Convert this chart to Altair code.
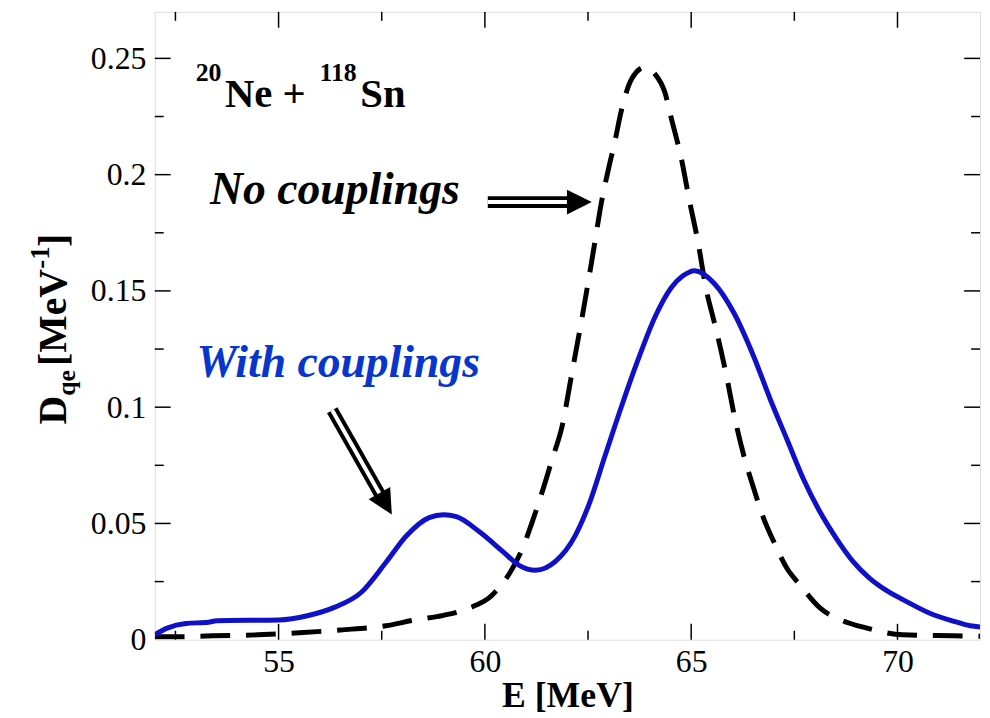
import altair as alt
import pandas as pd

# ---- data ----
E_with = [52.0, 52.3, 52.75, 53.3, 53.5, 55.0, 55.7, 56.35, 57.0, 57.6, 58.1, 58.65, 59.0,
          59.31, 59.86, 60.43, 60.83, 61.23, 61.71, 62.19, 62.51, 62.91, 63.31, 63.71, 64.12,
          64.52, 64.8, 65.08, 65.56, 66.04, 66.52, 66.92, 67.32, 67.72, 68.12, 68.52, 68.92,
          69.32, 69.72, 70.2, 70.77, 71.33, 71.76, 72.0]
D_with = [0.0022, 0.0050, 0.0070, 0.0075, 0.0082, 0.0085, 0.0103, 0.0139, 0.0203, 0.0332,
          0.0447, 0.0525, 0.0537, 0.0529, 0.0465, 0.0380, 0.0320, 0.0299, 0.0337, 0.0448,
          0.0576, 0.0790, 0.1003, 0.1203, 0.1387, 0.1515, 0.1565, 0.1587, 0.1532, 0.1404,
          0.1216, 0.1032, 0.0862, 0.0691, 0.0550, 0.0435, 0.0337, 0.0265, 0.0213, 0.0166,
          0.0115, 0.0081, 0.0060, 0.0055]

E_no = [52.0, 52.6, 53.4, 54.5, 55.5, 56.5, 57.6, 58.3, 59.0, 59.45, 59.79, 60.1, 60.27,
        60.67, 60.91, 61.15, 61.39, 61.63, 61.87, 62.11, 62.35, 62.51, 62.67, 62.83, 63.0,
        63.15, 63.3, 63.56, 63.88, 64.12, 64.36, 64.52, 64.76, 64.96, 65.16, 65.36, 65.56,
        65.72, 65.84, 66.08, 66.28, 66.52, 66.76, 67.0, 67.32, 67.64, 68.12, 68.68, 69.24,
        70.12, 71.33, 72.0]
D_no = [0.0013, 0.0013, 0.0017, 0.0021, 0.0030, 0.0042, 0.0060, 0.0085, 0.0105, 0.0125,
        0.0149, 0.0180, 0.0209, 0.0307, 0.0392, 0.0508, 0.0636, 0.0776, 0.0917, 0.1148,
        0.1380, 0.1544, 0.1715, 0.1886, 0.2028, 0.2142, 0.2270, 0.2412, 0.2462, 0.2433,
        0.2355, 0.2241, 0.2070, 0.1886, 0.1715, 0.1510, 0.1365, 0.1246, 0.1148, 0.0934,
        0.0789, 0.0648, 0.0520, 0.0422, 0.0307, 0.0235, 0.0137, 0.0081, 0.0051, 0.0021,
        0.0017, 0.0015]

x_major = [55, 60, 65, 70]
x_minor = [52.5, 57.5, 62.5, 67.5]
y_major = [0.05, 0.1, 0.15, 0.2, 0.25]
y_minor = [0.025, 0.075, 0.125, 0.175, 0.225]
y_labels = [0, 0.05, 0.1, 0.15, 0.2, 0.25]

# ---- layout / style ----
W, H = 832, 633
FONT = "Liberation Serif"
BLUE_LINE = "#1010c8"
BLUE_TEXT = "#0636cc"
xs = alt.Scale(domain=[52, 72], nice=False, zero=False)
ys = alt.Scale(domain=[0, 0.27], nice=False, zero=False)

AX_X = alt.Axis(values=x_major, title="E [MeV]", tickSize=0, domain=False, grid=False,
                labelFont=FONT, labelFontSize=32, labelColor="black", labelPadding=7,
                titleFont=FONT, titleFontSize=36, titleFontWeight="bold",
                titleColor="black", titlePadding=1, labelFlush=False)
AX_Y = alt.Axis(values=y_labels, format="~g", title=None, tickSize=0, domain=False,
                grid=False, labelFont=FONT, labelFontSize=32, labelColor="black",
                labelPadding=9, labelFlush=False)


def X(field="x"):
    return alt.X(f"{field}:Q", scale=xs, axis=AX_X, title="E [MeV]")


def Y(field="y"):
    return alt.Y(f"{field}:Q", scale=ys, axis=AX_Y, title=None)


with_df = pd.DataFrame({"x": E_with, "y": D_with})
no_df = pd.DataFrame({"x": E_no, "y": D_no})

dashed = alt.Chart(no_df).mark_line(color="black", strokeWidth=5, strokeDash=[30, 16],
                                    strokeCap="butt", interpolate="monotone", clip=True).encode(
    x=X(), y=Y())
solid = alt.Chart(with_df).mark_line(color=BLUE_LINE, strokeWidth=5, interpolate="monotone",
                                     clip=True).encode(x=X(), y=Y())

# ---- ticks (inward, on all four sides) ----
def xticks(vals, length):
    d = pd.DataFrame({"x": vals})
    b = alt.Chart(d).mark_rule(color="black", strokeWidth=1.5).encode(
        x=X(), y=alt.value(H), y2=alt.value(H - length))
    t = alt.Chart(d).mark_rule(color="black", strokeWidth=1.5).encode(
        x=X(), y=alt.value(0), y2=alt.value(length))
    return [b, t]


def yticks(vals, length):
    d = pd.DataFrame({"y": vals})
    l = alt.Chart(d).mark_rule(color="black", strokeWidth=1.5).encode(
        y=Y(), x=alt.value(0), x2=alt.value(length))
    r = alt.Chart(d).mark_rule(color="black", strokeWidth=1.5).encode(
        y=Y(), x=alt.value(W), x2=alt.value(W - length))
    return [l, r]


ticks = xticks(x_major, 16) + xticks(x_minor, 9) + yticks(y_major, 16) + yticks(y_minor, 9)

# ---- annotations ----
def text_at(s, x, y, size, color="black", style="normal", weight="bold"):
    return alt.Chart(pd.DataFrame({"x": [x], "y": [y], "t": [s]})).mark_text(
        font=FONT, fontSize=size, fontWeight=weight, fontStyle=style, color=color,
        align="left", baseline="alphabetic").encode(x=X(), y=Y(), text="t:N")


labels = [
    text_at("20", 52.99, 0.2402, 26),
    text_at("Ne +", 53.70, 0.2291, 41),
    text_at("118", 55.99, 0.2402, 26),
    text_at("Sn", 56.98, 0.2291, 41),
    text_at("No couplings", 53.34, 0.1873, 46, style="italic"),
    text_at("With couplings", 53.01, 0.1131, 46, color=BLUE_TEXT, style="italic"),
]

# ---- double-line arrows ----
ARROW_HEAD = "M -2 -1 L 0 0 L -2 1 Z"


def arrow(x0, y0, x1, y1, xt, yt, angle):
    d = pd.DataFrame({"x": [x0, x1], "y": [y0, y1], "o": [0, 1]})
    outer = alt.Chart(d).mark_line(color="black", strokeWidth=12, strokeCap="butt").encode(
        x=X(), y=Y(), order="o:Q")
    inner = alt.Chart(d).mark_line(color="white", strokeWidth=4, strokeCap="butt").encode(
        x=X(), y=Y(), order="o:Q")
    head = alt.Chart(pd.DataFrame({"x": [xt], "y": [yt]})).mark_point(
        shape=ARROW_HEAD, size=625, filled=True, color="black", opacity=1, strokeWidth=0,
        angle=angle).encode(x=X(), y=Y())
    return [outer, inner, head]


arrows = arrow(60.07, 0.1882, 62.10, 0.1882, 62.59, 0.1882, 0) + \
    arrow(56.30, 0.0987, 57.48, 0.0618, 57.745, 0.0538, 60)

# ---- composed y-axis title: D_qe [MeV^-1] ----
def ytitle_piece(s, px, py, size):
    return alt.Chart(pd.DataFrame({"t": [s]})).mark_text(
        font=FONT, fontSize=size, fontWeight="bold", color="black", angle=270,
        align="left", baseline="alphabetic").encode(
        x=alt.value(px), y=alt.value(py), text="t:N")


ytitle = [
    ytitle_piece("D", -90, 416, 40),
    ytitle_piece("qe", -80, 387, 26),
    ytitle_piece("[MeV", -90, 357, 40),
    ytitle_piece("-1", -107, 259, 27),
    ytitle_piece("]", -90, 237, 40),
]

chart = alt.layer(dashed, solid, *ticks, *labels, *arrows, *ytitle).properties(
    width=W, height=H,
    autosize=alt.AutoSizeParams(type="none"),
    padding={"left": 148, "top": 1, "right": 2, "bottom": 74},
).configure_view(stroke="black", strokeWidth=2).configure(background="white")

chart.save("out.html", embed_options={"renderer": "svg", "actions": False})
